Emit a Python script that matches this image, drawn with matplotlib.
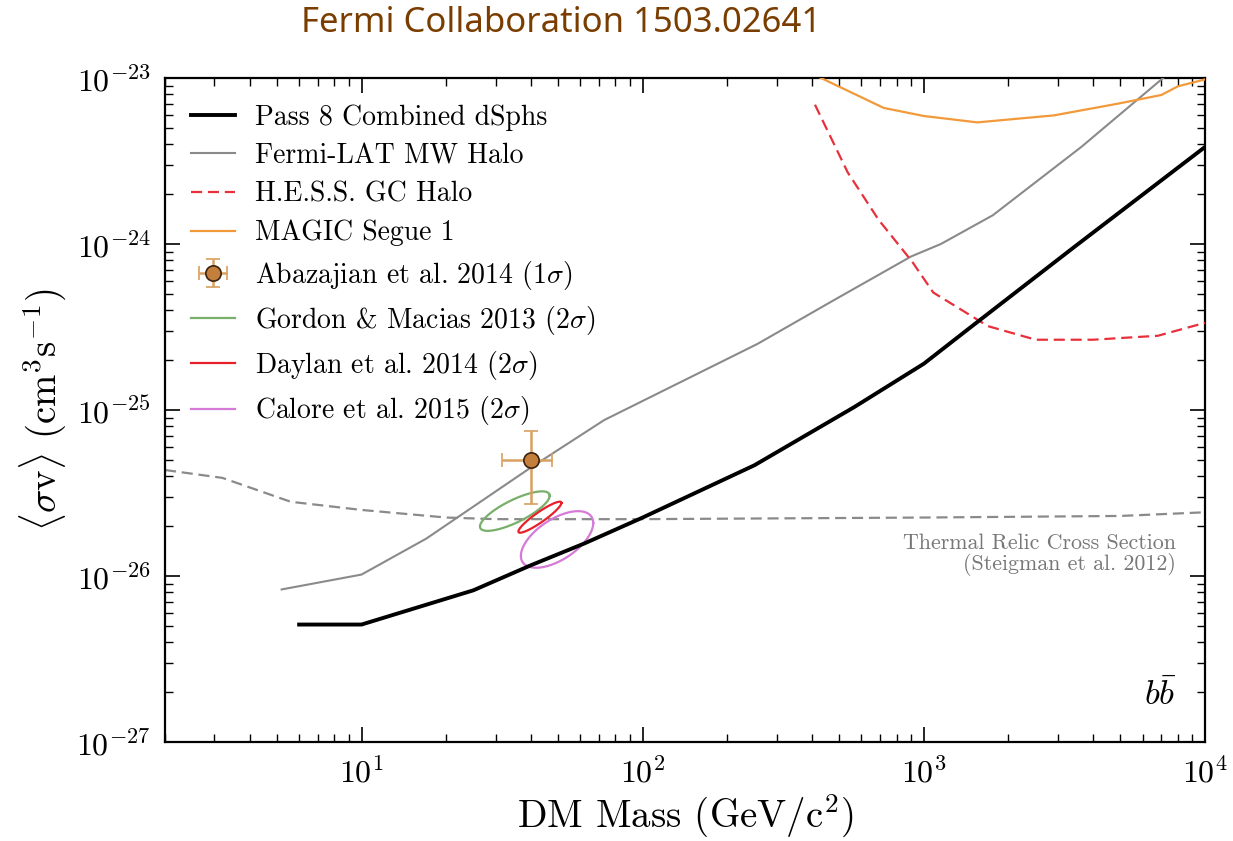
import numpy as np
import matplotlib
matplotlib.use("Agg")
import matplotlib.pyplot as plt
from matplotlib.ticker import NullFormatter, LogLocator

# ---- data -------------------------------------------------------------
mass_dsph = [6, 10, 25, 40, 62, 100, 250, 565, 1000, 1470, 3430, 10000]
sv_dsph = [5.1e-27, 5.1e-27, 8.2e-27, 1.16e-26, 1.57e-26, 2.25e-26, 4.65e-26,
           1.04e-25, 1.9e-25, 3.16e-25, 9.6e-25, 3.84e-24]

mass_mw = [5.2, 10, 17, 40, 73, 256, 480, 900, 1150, 1760, 3630, 7100]
sv_mw = [8.3e-27, 1.02e-26, 1.68e-26, 4.5e-26, 8.7e-26, 2.5e-25, 4.6e-25,
         8.4e-25, 1.0e-24, 1.49e-24, 3.84e-24, 1.0e-23]

mass_hess = [410, 536, 690, 910, 1080, 1690, 2500, 4000, 6800, 10000]
sv_hess = [6.9e-24, 2.7e-24, 1.4e-24, 7.8e-25, 5.1e-25, 3.2e-25, 2.65e-25,
           2.65e-25, 2.8e-25, 3.35e-25]

mass_magic = [420, 720, 1000, 1550, 2900, 4900, 7000, 8000, 10000]
sv_magic = [1.02e-23, 6.6e-24, 5.9e-24, 5.4e-24, 5.95e-24, 7.0e-24, 7.9e-24,
            8.9e-24, 9.8e-24]

mass_thermal = [2, 3.2, 5.6, 10, 20, 30, 100, 1000, 5000, 10000]
sv_thermal = [4.35e-26, 3.9e-26, 2.8e-26, 2.5e-26, 2.25e-26, 2.2e-26, 2.2e-26,
              2.25e-26, 2.3e-26, 2.42e-26]

# Abazajian et al. 2014 best fit (1 sigma)
aba_mass, aba_mass_err = 40.0, [[8.5], [7.5]]
aba_sv, aba_sv_err = 5.0e-26, [[2.3e-26], [2.5e-26]]

# GC excess contours: centre (GeV, cm^3/s), half-extent in decades (mass, sv),
# and correlation of log mass with log sv
contour_labels = ["Gordon & Macias 2013 ($2\\sigma$)",
                  "Daylan et al. 2014 ($2\\sigma$)",
                  "Calore et al. 2015 ($2\\sigma$)"]
contour_centre_mass = [35.1, 43.1, 49.6]
contour_centre_sv = [2.46e-26, 2.26e-26, 1.66e-26]
contour_half_dex_mass = [0.124, 0.0765, 0.1287]
contour_half_dex_sv = [0.119, 0.0934, 0.1705]
contour_corr = [0.78, 0.92, 0.58]
contour_colors = ["#78b06a", "#e8202a", "#d67ad8"]

mass_ticks = [10, 100, 1000, 10000]
sv_ticks = [1e-27, 1e-26, 1e-25, 1e-24, 1e-23]

# ---- style ------------------------------------------------------------
plt.rcParams.update({
    "font.family": "serif",
    "font.serif": ["cmr10", "DejaVu Serif"],
    "mathtext.fontset": "cm",
    "axes.formatter.use_mathtext": True,
    "axes.unicode_minus": False,
})

fig = plt.figure(figsize=(12.33, 8.41), dpi=100)
ax = fig.add_axes([0.1338, 0.1177, 0.9773 - 0.1338, 0.9073 - 0.1177])

ax.plot(mass_thermal, sv_thermal, color="#8a8a8a", lw=1.6, dashes=(5, 2.6),
        zorder=2)
h_dsph, = ax.plot(mass_dsph, sv_dsph, color="black", lw=2.8, zorder=5,
                  label="Pass 8 Combined dSphs")
h_mw, = ax.plot(mass_mw, sv_mw, color="#8a8a8a", lw=1.5, zorder=3,
                label="Fermi-LAT MW Halo")
h_hess, = ax.plot(mass_hess, sv_hess, color="#e8303c", lw=1.6,
                  dashes=(5, 2.6), zorder=3, label="H.E.S.S. GC Halo")
h_magic, = ax.plot(mass_magic, sv_magic, color="#f29a3a", lw=1.6, zorder=3,
                   label="MAGIC Segue 1")
h_aba = ax.errorbar([aba_mass], [aba_sv], xerr=aba_mass_err, yerr=aba_sv_err,
                    fmt="o", ms=11, mfc="#c47f3c", mec="#3a2410", mew=1.2,
                    ecolor="#d9a060", elinewidth=1.8, capsize=5, capthick=1.8,
                    zorder=6, label="Abazajian et al. 2014 ($1\\sigma$)")

t = np.linspace(0, 2 * np.pi, 300)
contour_handles = []
for lab, cm, cs, hm, hs, rho, col in zip(contour_labels, contour_centre_mass,
                                         contour_centre_sv, contour_half_dex_mass,
                                         contour_half_dex_sv, contour_corr,
                                         contour_colors):
    lx = np.log10(cm) + hm * np.cos(t)
    ly = np.log10(cs) + hs * (rho * np.cos(t) + np.sqrt(1 - rho ** 2) * np.sin(t))
    h, = ax.plot(10 ** lx, 10 ** ly, color=col, lw=1.6, zorder=4, label=lab)
    contour_handles.append(h)

ax.set_xscale("log")
ax.set_yscale("log")
ax.set_xlim(2, 1e4)
ax.set_ylim(1e-27, 1e-23)
ax.set_xticks(mass_ticks)
ax.set_yticks(sv_ticks)
ax.xaxis.set_minor_locator(LogLocator(base=10, subs=np.arange(2, 10), numticks=20))
ax.yaxis.set_minor_locator(LogLocator(base=10, subs=np.arange(2, 10), numticks=20))
ax.xaxis.set_minor_formatter(NullFormatter())
ax.yaxis.set_minor_formatter(NullFormatter())

ax.set_xlabel("DM Mass (GeV/c$^2$)", fontsize=28, labelpad=4)
ax.set_ylabel(r"$\langle\sigma \mathrm{v}\rangle$ (cm$^3$s$^{-1}$)",
              fontsize=28, labelpad=6)

ax.tick_params(which="both", direction="in", top=True, right=True)
ax.tick_params(which="major", length=11, width=1.2, labelsize=23, pad=10)
ax.tick_params(which="minor", length=5.5, width=1.0)
for sp in ax.spines.values():
    sp.set_linewidth(1.6)

ax.text(0.972, 0.314, "Thermal Relic Cross Section\n(Steigman et al. 2012)",
        transform=ax.transAxes, ha="right", va="top", fontsize=15.8,
        color="#777777", linespacing=1.0)
ax.text(0.972, 0.07, r"$b\bar{b}$", transform=ax.transAxes, ha="right",
        va="center", fontsize=25)

handles = [h_dsph, h_mw, h_hess, h_magic, h_aba] + contour_handles
labels = [h.get_label() for h in handles]
ax.legend(handles, labels, loc="upper left", frameon=False, fontsize=20,
          handlelength=1.6, handletextpad=0.7, labelspacing=0.44,
          borderaxespad=0.3, bbox_to_anchor=(0.006, 0.99))

fig.text(0.455, 0.973, "Fermi Collaboration 1503.02641", ha="center",
         va="center", fontsize=25, color="#7a3d00", family="Noto Sans")

fig.savefig("out.png", dpi=100)
